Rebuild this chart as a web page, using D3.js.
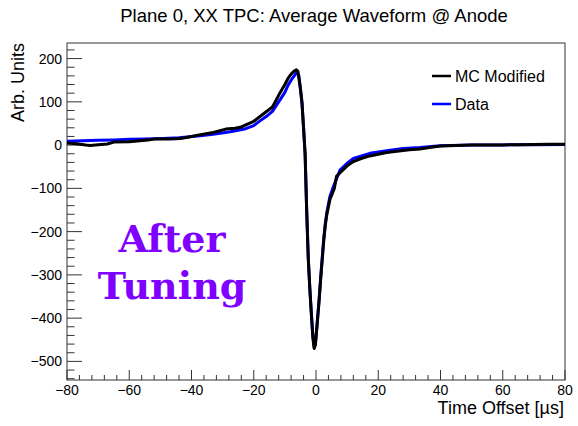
<!DOCTYPE html>
<html>
<head>
<meta charset="utf-8">
<script src="https://cdn.jsdelivr.net/npm/d3@7"></script>
<style>
  html, body { margin: 0; padding: 0; background: #fff; }
  svg { display: block; }
  text { font-family: "Liberation Sans", Arial, Helvetica, sans-serif; }
</style>
</head>
<body>
<svg id="chart" width="578" height="426"></svg>
<script>
// ---- data ----
const mcTime = [-80,-77,-74,-72.5,-70,-67,-65,-60,-54,-52,-47,-43.5,-40,-38,-33,-29,-26,-24,-20,-18,-16,-14,-12,-10,-9,-8,-7,-6.3,-5.8,-5,-4.5,-4,-3.5,-3,-2.5,-2,-1.5,-1,-0.6,-0.2,0.3,1,1.5,2,2.5,3,3.5,4.5,5.9,6.6,8,10,12,14.5,17.3,20,22.7,26,30,33.4,37,40,45,50,55,60,65,70,75,80];
const mcValue = [5,3,0,-1,1,2.5,7,8,11.5,14,14,15,20,23,29,37,39,42,55,66,77,88,115,140,154,164,171,174,170,130,100,40,-20,-150,-260,-330,-390,-445,-470,-462,-420,-360,-310,-265,-220,-185,-160,-125,-100,-72,-62,-48,-38,-31,-25,-21,-17,-14,-11,-9,-5,-2,-1,0,0,0.5,1,1.5,2,2];

const dataTime = [-80,-75,-70,-65,-60,-55,-49,-44,-38,-33,-27.5,-23,-20,-18,-16,-14,-12,-10,-9,-8,-7,-6,-5.5,-5,-4.5,-4,-3.5,-3,-2.5,-2,-1.5,-1,-0.6,-0.2,0.3,1,1.5,2,2.5,3,3.5,4.5,5.6,7.7,10,12,17.3,22.7,28,33.4,37,40,50,60,70,80];
const dataValue = [9,10,11,12,13.5,14,15.4,17,21,25,31,37,45,56,66,78,100,122,138,150,160,169,160,130,95,40,-20,-148,-258,-328,-388,-442,-466,-460,-418,-356,-306,-260,-215,-180,-155,-118,-96,-58,-42,-31,-19,-13,-8,-5.4,-3,-1.5,0,0.5,1,1.5];

const seriesNames = ["MC Modified", "Data"];
const seriesColors = ["#000000", "#0000ff"];

const xTicks = [-80,-60,-40,-20,0,20,40,60,80];
const yTicks = [-500,-400,-300,-200,-100,0,100,200];

// ---- layout ----
const svg = d3.select("#chart");
const padL = 67, padR = 565, padT = 43, padB = 380;
const x = d3.scaleLinear().domain([-80, 80]).range([padL, padR]);
const y = d3.scaleLinear().domain([-543, 236]).range([padB, padT]);

// title
svg.append("text")
  .attr("x", 314).attr("y", 22)
  .attr("text-anchor", "middle")
  .style("font-size", "18.5px")
  .attr("fill", "#000")
  .text("Plane 0, XX TPC: Average Waveform @ Anode");

// frame
svg.append("rect")
  .attr("x", padL).attr("y", padT)
  .attr("width", padR - padL).attr("height", padB - padT)
  .attr("fill", "none").attr("stroke", "#333").attr("stroke-width", 1);

// x axis ticks
const xMinor = d3.range(-80, 80.001, 4);
svg.append("g").selectAll("line").data(xMinor).join("line")
  .attr("x1", d => x(d)).attr("x2", d => x(d))
  .attr("y1", padB).attr("y2", d => padB - (d % 20 === 0 ? 10 : 5))
  .attr("stroke", "#333").attr("stroke-width", 1);
svg.append("g").selectAll("text").data(xTicks).join("text")
  .attr("x", d => x(d)).attr("y", 395)
  .attr("text-anchor", "middle")
  .style("font-size", "14px")
  .text(d => d < 0 ? "\u2212" + Math.abs(d) : String(d));

// y axis ticks
const yMinor = d3.range(-540, 236, 20);
svg.append("g").selectAll("line").data(yMinor).join("line")
  .attr("x1", padL).attr("x2", d => padL + (d % 100 === 0 ? 15 : 7.5))
  .attr("y1", d => y(d)).attr("y2", d => y(d))
  .attr("stroke", "#333").attr("stroke-width", 1);
svg.append("g").selectAll("text").data(yTicks).join("text")
  .attr("x", 62).attr("y", d => y(d) + 5)
  .attr("text-anchor", "end")
  .style("font-size", "14px")
  .text(d => d < 0 ? "\u2212" + Math.abs(d) : String(d));

// axis titles
svg.append("text")
  .attr("x", 564).attr("y", 414)
  .attr("text-anchor", "end")
  .style("font-size", "18px")
  .text("Time Offset [\u00b5s]");
svg.append("text")
  .attr("transform", "translate(24,43) rotate(-90)")
  .attr("text-anchor", "end")
  .style("font-size", "18px")
  .text("Arb. Units");

// curves (Data first, MC on top)
const line = d3.line().x(d => x(d[0])).y(d => y(d[1]));
const plotG = svg.append("g");
const dataPts = d3.zip(dataTime, dataValue);
const mcPts = d3.zip(mcTime, mcValue);
plotG.append("path").datum(dataPts)
  .attr("d", line).attr("fill", "none")
  .attr("stroke", seriesColors[1]).attr("stroke-width", 3)
  .attr("stroke-linejoin", "round");
plotG.append("path").datum(mcPts)
  .attr("d", line).attr("fill", "none")
  .attr("stroke", seriesColors[0]).attr("stroke-width", 3)
  .attr("stroke-linejoin", "round");

// legend
const legY = [76, 104];
const leg = svg.append("g");
seriesNames.forEach((n, i) => {
  leg.append("line")
    .attr("x1", 432).attr("x2", 451)
    .attr("y1", legY[i]).attr("y2", legY[i])
    .attr("stroke", seriesColors[i]).attr("stroke-width", 2.5);
  leg.append("text")
    .attr("x", 455).attr("y", legY[i] + 6)
    .style("font-size", "16px")
    .text(n);
});

// annotation
const ann = svg.append("g")
  .attr("fill", "#8000ff")
  .style("font-weight", "bold")
  .style("font-size", "38px")
  .attr("text-anchor", "middle");
ann.append("text").attr("x", 172).attr("y", 252).style("font-family", "'DejaVu Serif', serif").text("After");
ann.append("text").attr("x", 172).attr("y", 299).style("font-family", "'DejaVu Serif', serif").text("Tuning");
</script>
</body>
</html>
